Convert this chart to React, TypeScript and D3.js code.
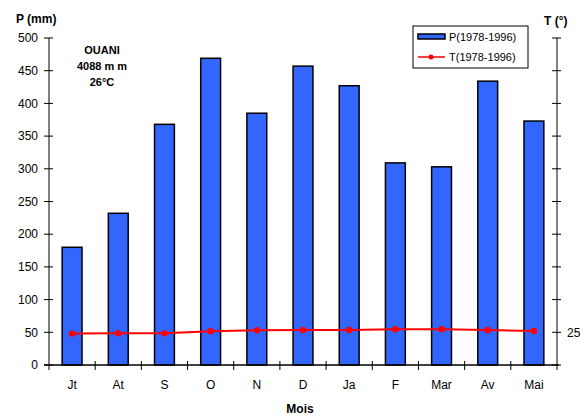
import React, { useEffect, useRef } from "react";
import * as d3 from "d3";

const MONTHS = ["Jt", "At", "S", "O", "N", "D", "Ja", "F", "Mar", "Av", "Mai"];
const RAIN = [180, 232, 368, 469, 385, 457, 427, 309, 303, 434, 373];
const TEMP = [24.0, 24.2, 24.2, 25.8, 26.6, 26.8, 26.8, 27.4, 27.4, 26.8, 26.0];
const P_TICKS = [0, 50, 100, 150, 200, 250, 300, 350, 400, 450, 500];
const T_TICKS = [0, 25, 50, 75, 100, 125, 150, 175, 200, 225, 250];

const FONT = "Liberation Sans, Arial, sans-serif";

export default function App() {
  const svgRef = useRef<SVGSVGElement>(null);

  useEffect(() => {
    if (!svgRef.current) return;
    const svg = d3.select(svgRef.current);
    svg.selectAll("*").remove();

    const left = 49;
    const right = 557;
    const top = 38;
    const bottom = 365;

    const x = d3.scaleBand().domain(MONTHS).range([left, right]).paddingInner(0).paddingOuter(0);
    const yP = d3.scaleLinear().domain([0, 500]).range([bottom, top]);
    const yT = d3.scaleLinear().domain([0, 250]).range([bottom, top]);

    const barW = x.bandwidth() * 0.43;

    // bars
    svg.append("g")
      .selectAll("rect")
      .data(RAIN)
      .join("rect")
      .attr("x", (_, i) => x(MONTHS[i])! + x.bandwidth() / 2 - barW / 2)
      .attr("y", (d) => yP(d))
      .attr("width", barW)
      .attr("height", (d) => bottom - yP(d))
      .attr("fill", "#3366ff")
      .attr("stroke", "#000")
      .attr("stroke-width", 1.5);

    // temperature line
    const line = d3
      .line<number>()
      .x((_, i) => x(MONTHS[i])! + x.bandwidth() / 2)
      .y((d) => yT(d));
    svg.append("path")
      .datum(TEMP)
      .attr("d", line)
      .attr("fill", "none")
      .attr("stroke", "#ff0000")
      .attr("stroke-width", 2);
    svg.append("g")
      .selectAll("circle")
      .data(TEMP)
      .join("circle")
      .attr("cx", (_, i) => x(MONTHS[i])! + x.bandwidth() / 2)
      .attr("cy", (d) => yT(d))
      .attr("r", 3.2)
      .attr("fill", "#ff0000");

    const axisColor = "#000";

    // left axis
    const gl = svg.append("g");
    gl.append("line").attr("x1", left).attr("x2", left).attr("y1", top).attr("y2", bottom + 5).attr("stroke", axisColor);
    P_TICKS.forEach((t) => {
      gl.append("line").attr("x1", left - 5).attr("x2", left + 4).attr("y1", yP(t)).attr("y2", yP(t)).attr("stroke", axisColor);
      gl.append("text")
        .attr("x", 38)
        .attr("y", yP(t))
        .attr("dy", "0.35em")
        .attr("text-anchor", "end")
        .attr("font-family", FONT)
        .attr("font-size", 12)
        .text(t);
    });

    // right axis
    const gr = svg.append("g");
    gr.append("line").attr("x1", right).attr("x2", right).attr("y1", top).attr("y2", bottom + 5).attr("stroke", axisColor);
    T_TICKS.forEach((t) => {
      gr.append("line").attr("x1", right - 5).attr("x2", right + 4).attr("y1", yT(t)).attr("y2", yT(t)).attr("stroke", axisColor);
    });
    gr.append("text")
      .attr("x", 567)
      .attr("y", yT(25))
      .attr("dy", "0.35em")
      .attr("font-family", FONT)
      .attr("font-size", 12)
      .text("25");

    // x axis
    const gx = svg.append("g");
    gx.append("line").attr("x1", left - 5).attr("x2", right + 2).attr("y1", bottom).attr("y2", bottom).attr("stroke", axisColor).attr("stroke-width", 1.5);
    MONTHS.forEach((m, i) => {
      const bx = x(m)!;
      if (i > 0) {
        gx.append("line").attr("x1", bx).attr("x2", bx).attr("y1", bottom - 4).attr("y2", bottom + 5).attr("stroke", axisColor);
      }
      gx.append("text")
        .attr("x", bx + x.bandwidth() / 2)
        .attr("y", 385)
        .attr("dy", "0.35em")
        .attr("text-anchor", "middle")
        .attr("font-family", FONT)
        .attr("font-size", 12)
        .text(m);
    });

    // titles
    svg.append("text").attr("x", 16).attr("y", 23).attr("font-family", FONT).attr("font-size", 12).attr("font-weight", "bold").text("P (mm)");
    svg.append("text").attr("x", 544).attr("y", 25).attr("font-family", FONT).attr("font-size", 12).attr("font-weight", "bold").text("T (°)");
    svg.append("text").attr("x", 300).attr("y", 413).attr("text-anchor", "middle").attr("font-family", FONT).attr("font-size", 12).attr("font-weight", "bold").text("Mois");

    ["OUANI", "4088 m m", "26°C"].forEach((s, i) => {
      svg.append("text")
        .attr("x", 102)
        .attr("y", 54 + i * 16)
        .attr("text-anchor", "middle")
        .attr("font-family", FONT)
        .attr("font-size", 11)
        .attr("font-weight", "bold")
        .text(s);
    });

    // legend
    const lg = svg.append("g");
    lg.append("rect").attr("x", 413).attr("y", 26).attr("width", 115).attr("height", 42).attr("fill", "#fff").attr("stroke", "#000");
    lg.append("rect").attr("x", 418).attr("y", 34).attr("width", 27).attr("height", 5).attr("fill", "#3366ff").attr("stroke", "#000").attr("stroke-width", 1.5);
    lg.append("text").attr("x", 449).attr("y", 37).attr("dy", "0.35em").attr("font-family", FONT).attr("font-size", 11).text("P(1978-1996)");
    lg.append("line").attr("x1", 418).attr("x2", 445).attr("y1", 57).attr("y2", 57).attr("stroke", "#ff0000").attr("stroke-width", 1.5);
    lg.append("circle").attr("cx", 431).attr("cy", 57).attr("r", 2.5).attr("fill", "#ff0000");
    lg.append("text").attr("x", 449).attr("y", 57).attr("dy", "0.35em").attr("font-family", FONT).attr("font-size", 11).text("T(1978-1996)");
  }, []);

  return <svg ref={svgRef} width={585} height={419} style={{ display: "block", position: "absolute", left: 0, top: 0, background: "#fff" }} />;
}
